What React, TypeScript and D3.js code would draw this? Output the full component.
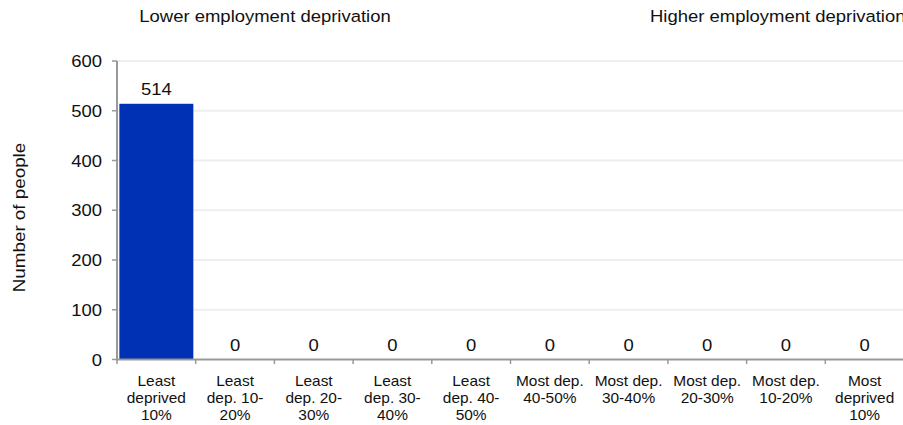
import React from "react";
import * as d3 from "d3";

const categories: string[][] = [
  ["Least", "deprived", "10%"],
  ["Least", "dep. 10-", "20%"],
  ["Least", "dep. 20-", "30%"],
  ["Least", "dep. 30-", "40%"],
  ["Least", "dep. 40-", "50%"],
  ["Most dep.", "40-50%"],
  ["Most dep.", "30-40%"],
  ["Most dep.", "20-30%"],
  ["Most dep.", "10-20%"],
  ["Most", "deprived", "10%"],
];
const values: number[] = [514, 0, 0, 0, 0, 0, 0, 0, 0, 0];
const yTicks: number[] = [0, 100, 200, 300, 400, 500, 600];
const leftTitle = "Lower employment deprivation";
const rightTitle = "Higher employment deprivation";
const yTitle = "Number of people";

const W = 903;
const H = 425;
const FONT = "'Liberation Sans', Arial, Helvetica, sans-serif";

type STProps = {
  x: number;
  y: number;
  size: number;
  sx: number;
  anchor?: "start" | "middle" | "end";
  rotate?: number;
  children: React.ReactNode;
};

function SText({ x, y, size, sx, anchor = "start", rotate = 0, children }: STProps) {
  return (
    <text
      transform={`translate(${x},${y}) rotate(${rotate}) scale(${sx},1)`}
      fontSize={size}
      textAnchor={anchor}
      fill="#111"
    >
      {children}
    </text>
  );
}

export default function App() {
  const x = d3
    .scaleBand<number>()
    .domain(d3.range(categories.length))
    .range([117, 904])
    .paddingInner(0.06)
    .paddingOuter(0.03);
  const y = d3.scaleLinear().domain([0, 600]).range([359.5, 61]);

  return (
    <svg
      width={W}
      height={H}
      style={{ position: "absolute", left: 0, top: 0, fontFamily: FONT }}
    >
      <rect width={W} height={H} fill="#fff" />
      <SText x={265} y={22} size={16.8} sx={1.1} anchor="middle">
        {leftTitle}
      </SText>
      <SText x={650} y={22} size={16.8} sx={1.1}>
        {rightTitle}
      </SText>
      {yTicks.slice(1).map((t) => (
        <line
          key={"g" + t}
          x1={117}
          x2={W}
          y1={y(t)}
          y2={y(t)}
          stroke="#eeeeee"
          strokeWidth={2}
        />
      ))}
      {values.map((v, i) => (
        <rect
          key={"b" + i}
          x={x(i)}
          y={y(v)}
          width={x.bandwidth()}
          height={y(0) - y(v)}
          fill="#0030b3"
        />
      ))}
      {values.map((v, i) => (
        <SText
          key={"v" + i}
          x={(x(i) as number) + x.bandwidth() / 2}
          y={y(v) - 8.5}
          size={16.5}
          sx={1.12}
          anchor="middle"
        >
          {v}
        </SText>
      ))}
      <line x1={117} x2={117} y1={61} y2={360} stroke="#999" strokeWidth={2} />
      <line x1={116} x2={W} y1={359.5} y2={359.5} stroke="#999" strokeWidth={2} />
      {yTicks.map((t) => (
        <g key={"t" + t}>
          <line x1={112} x2={117} y1={y(t)} y2={y(t)} stroke="#999" strokeWidth={1.5} />
          <SText x={102} y={y(t) + 6} size={16.5} sx={1.12} anchor="end">
            {t}
          </SText>
        </g>
      ))}
      {d3.range(categories.length + 1).map((i) => {
        const xx = 117 + i * (787 / categories.length);
        return (
          <line
            key={"xt" + i}
            x1={xx}
            x2={xx}
            y1={359.5}
            y2={364}
            stroke="#999"
            strokeWidth={1.5}
          />
        );
      })}
      {categories.map((lines, i) => {
        const cx = (x(i) as number) + x.bandwidth() / 2;
        return (
          <g key={"c" + i}>
            {lines.map((l, j) => (
              <SText key={j} x={cx} y={385.5 + j * 17} size={14.3} sx={1.08} anchor="middle">
                {l}
              </SText>
            ))}
          </g>
        );
      })}
      <SText x={25} y={217.5} size={16.5} sx={1.14} rotate={-90} anchor="middle">
        {yTitle}
      </SText>
    </svg>
  );
}
